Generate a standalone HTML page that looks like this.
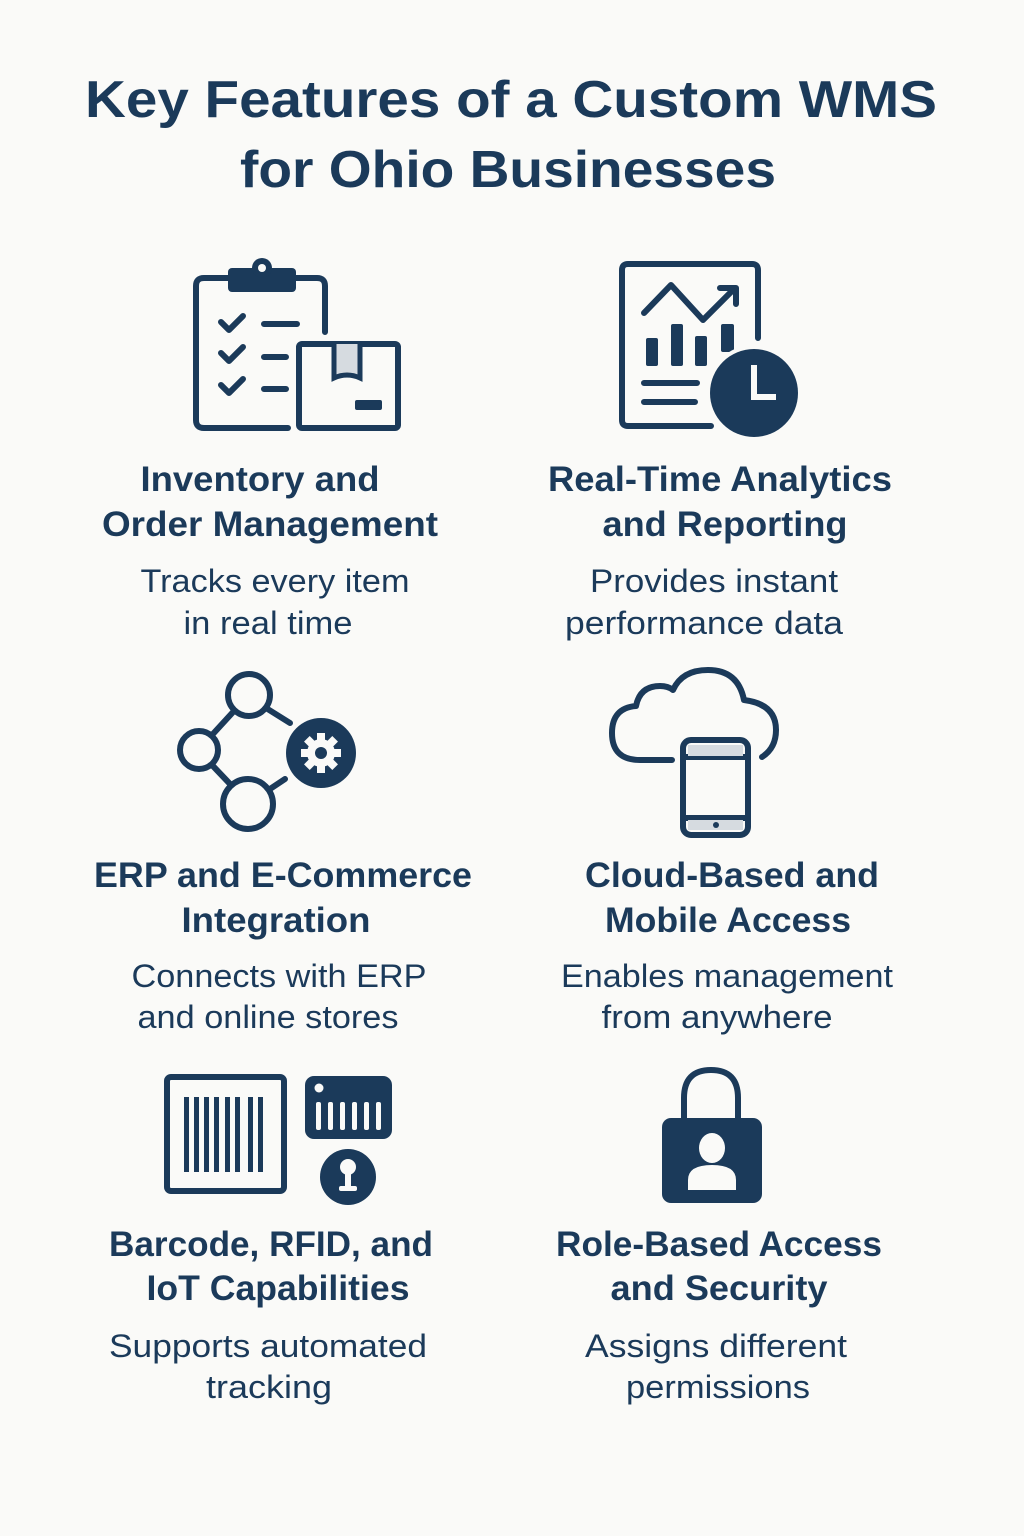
<!DOCTYPE html>
<html><head><meta charset="utf-8"><style>
html,body{margin:0;padding:0;background:#fafaf8;}
svg{display:block}
.t{font-family:"Liberation Sans",sans-serif;font-weight:bold;fill:#1b3a5a;text-anchor:middle}
.h{font-family:"Liberation Sans",sans-serif;font-weight:bold;fill:#1b3a5a;font-size:35px;text-anchor:middle}
.b{font-family:"Liberation Sans",sans-serif;fill:#1b3a5a;font-size:32px;text-anchor:middle}
</style></head><body>
<svg width="1024" height="1536" viewBox="0 0 1024 1536" xmlns="http://www.w3.org/2000/svg">
<rect width="1024" height="1536" fill="#fafaf8"/>
<text class="t" x="511" y="117" font-size="52" textLength="852" lengthAdjust="spacingAndGlyphs">Key Features of a Custom WMS</text>
<text class="t" x="508" y="187" font-size="52" textLength="536" lengthAdjust="spacingAndGlyphs">for Ohio Businesses</text>

<g fill="none" stroke="#1b3a5a" stroke-width="6" stroke-linecap="round" stroke-linejoin="round">
<path d="M288 428 H204 Q196 428 196 420 V286 Q196 278 204 278 H317 Q325 278 325 286 V332"/>
<path d="M221 322 l8 8 l14 -14 M221 353 l8 8 l14 -14 M221 385 l8 8 l14 -14"/>
<path d="M264 324 H297 M264 357 H286 M264 389 H286"/>
<rect x="299" y="344" width="99" height="84" rx="3"/>
<path d="M711 426 H628 Q622 426 622 420 V270 Q622 264 628 264 H752 Q758 264 758 270 V338"/>
<path d="M644 313 L671 285 L703 320 L735 288 M720 288 H736 V304"/>
<path d="M644 383 H697 M644 402 H695"/>
<circle cx="249" cy="695" r="21"/>
<circle cx="199" cy="750" r="19"/>
<circle cx="248" cy="804" r="25"/>
<path d="M212 735 L234 711 M212 765 L231 785 M266 708 L290 723 M270 789 L285 779"/>
<path d="M672 760 H640 Q612 760 612 733 Q612 708 636 706 Q640 686 660 686 Q668 686 673 690 Q682 670 708 670 Q738 670 744 700 Q776 704 776 730 Q776 748 762 757"/>
<rect x="683" y="740" width="65" height="95" rx="8"/>
<path d="M683 757 H748 M683 818 H748"/>
<rect x="167" y="1077" width="117" height="114" rx="4"/>
<path d="M684 1120 V1098 Q684 1070 711 1070 Q738 1070 738 1098 V1120"/>
</g>
<g fill="#1b3a5a">
<rect x="228" y="268" width="68" height="24" rx="4"/>
<circle cx="262" cy="268" r="10"/>
<circle cx="262" cy="268" r="4" fill="#fafaf8"/>
<rect x="334" y="344" width="26" height="34" fill="#d6dbe0"/>
<path d="M334 344 V378 Q347 372 360 378 V344" fill="none" stroke="#1b3a5a" stroke-width="5"/>
<rect x="355" y="400" width="27" height="10" rx="2"/>
<rect x="646" y="338" width="12" height="28" rx="2"/>
<rect x="671" y="324" width="12" height="42" rx="2"/>
<rect x="695" y="336" width="12" height="30" rx="2"/>
<rect x="721" y="324" width="13" height="28" rx="2"/>
<circle cx="754" cy="393" r="48" fill="#fafaf8"/>
<circle cx="754" cy="393" r="44"/>
<path d="M754 365 V397 H776" fill="none" stroke="#fafaf8" stroke-width="6"/>
<circle cx="321" cy="753" r="35"/>
<g transform="translate(321,753)" fill="#fafaf8">
<circle r="14"/>
<rect x="-4" y="-20" width="8" height="40"/><rect x="-20" y="-4" width="40" height="8"/>
<rect x="-4" y="-20" width="8" height="40" transform="rotate(45)"/><rect x="-4" y="-20" width="8" height="40" transform="rotate(-45)"/>
<circle r="6" fill="#1b3a5a"/>
</g>
<rect x="688" y="745" width="55" height="11" fill="#d6dbe0"/>
<rect x="688" y="820" width="55" height="10" fill="#d6dbe0"/>
<circle cx="716" cy="825" r="3"/>
<rect x="184" y="1097" width="5" height="75"/><rect x="194" y="1097" width="5" height="75"/>
<rect x="204" y="1097" width="5" height="75"/><rect x="214" y="1097" width="5" height="75"/>
<rect x="225" y="1097" width="5" height="75"/><rect x="235" y="1097" width="5" height="75"/>
<rect x="248" y="1097" width="5" height="75"/><rect x="258" y="1097" width="5" height="75"/>
<rect x="305" y="1076" width="87" height="63" rx="9"/>
<circle cx="319" cy="1088" r="4.5" fill="#fafaf8"/>
<g fill="#fafaf8">
<rect x="316" y="1102" width="5" height="28" rx="2"/><rect x="328" y="1102" width="5" height="28" rx="2"/>
<rect x="340" y="1102" width="5" height="28" rx="2"/><rect x="352" y="1102" width="5" height="28" rx="2"/>
<rect x="364" y="1102" width="5" height="28" rx="2"/><rect x="376" y="1102" width="5" height="28" rx="2"/>
</g>
<circle cx="348" cy="1177" r="28"/>
<g fill="#fafaf8"><circle cx="348" cy="1167" r="8"/><rect x="345" y="1170" width="6" height="17"/><rect x="339" y="1186" width="18" height="5" rx="2"/></g>
<rect x="662" y="1118" width="100" height="85" rx="9"/>
<g fill="#fafaf8"><ellipse cx="712" cy="1148" rx="13" ry="15"/><path d="M688 1190 V1180 Q688 1165 712 1165 Q736 1165 736 1180 V1190 Z"/></g>
</g>

<g lengthAdjust="spacingAndGlyphs">
<text class="h" x="260" y="491" textLength="239" lengthAdjust="spacingAndGlyphs">Inventory and</text>
<text class="h" x="270" y="536" textLength="336" lengthAdjust="spacingAndGlyphs">Order Management</text>
<text class="b" x="275" y="592" textLength="269" lengthAdjust="spacingAndGlyphs">Tracks every item</text>
<text class="b" x="268" y="634" textLength="169" lengthAdjust="spacingAndGlyphs">in real time</text>

<text class="h" x="720" y="491" textLength="344" lengthAdjust="spacingAndGlyphs">Real-Time Analytics</text>
<text class="h" x="725" y="536" textLength="245" lengthAdjust="spacingAndGlyphs">and Reporting</text>
<text class="b" x="714" y="592" textLength="248" lengthAdjust="spacingAndGlyphs">Provides instant</text>
<text class="b" x="704" y="634" textLength="278" lengthAdjust="spacingAndGlyphs">performance data</text>

<text class="h" x="283" y="887" textLength="378" lengthAdjust="spacingAndGlyphs">ERP and E-Commerce</text>
<text class="h" x="276" y="932" textLength="189" lengthAdjust="spacingAndGlyphs">Integration</text>
<text class="b" x="279" y="987" textLength="295" lengthAdjust="spacingAndGlyphs">Connects with ERP</text>
<text class="b" x="268" y="1028" textLength="261" lengthAdjust="spacingAndGlyphs">and online stores</text>

<text class="h" x="732" y="887" textLength="294" lengthAdjust="spacingAndGlyphs">Cloud-Based and</text>
<text class="h" x="728" y="932" textLength="246" lengthAdjust="spacingAndGlyphs">Mobile Access</text>
<text class="b" x="727" y="987" textLength="332" lengthAdjust="spacingAndGlyphs">Enables management</text>
<text class="b" x="717" y="1028" textLength="231" lengthAdjust="spacingAndGlyphs">from anywhere</text>

<text class="h" x="271" y="1256" textLength="324" lengthAdjust="spacingAndGlyphs">Barcode, RFID, and</text>
<text class="h" x="278" y="1300" textLength="263" lengthAdjust="spacingAndGlyphs">IoT Capabilities</text>
<text class="b" x="268" y="1357" textLength="318" lengthAdjust="spacingAndGlyphs">Supports automated</text>
<text class="b" x="269" y="1398" textLength="126" lengthAdjust="spacingAndGlyphs">tracking</text>

<text class="h" x="719" y="1256" textLength="326" lengthAdjust="spacingAndGlyphs">Role-Based Access</text>
<text class="h" x="719" y="1300" textLength="217" lengthAdjust="spacingAndGlyphs">and Security</text>
<text class="b" x="716" y="1357" textLength="262" lengthAdjust="spacingAndGlyphs">Assigns different</text>
<text class="b" x="718" y="1398" textLength="184" lengthAdjust="spacingAndGlyphs">permissions</text>
</g>
</svg>
</body></html>
